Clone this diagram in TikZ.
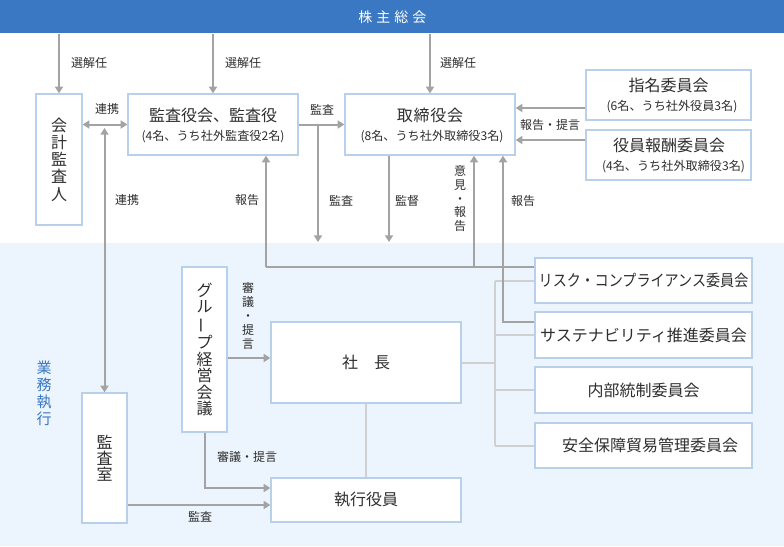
\documentclass[tikz,border=0pt]{standalone}
\usepackage{fontspec}
\setmainfont{Noto Sans CJK JP}
\usetikzlibrary{arrows.meta}
\definecolor{barblue}{HTML}{3A78C3}
\definecolor{bgblue}{HTML}{ECF4FD}
\definecolor{boxline}{HTML}{B9D0EA}
\definecolor{arrgray}{HTML}{A3A3A3}
\definecolor{lightln}{HTML}{D0D0D0}
\definecolor{txt}{HTML}{2E2E2E}
\definecolor{labblue}{HTML}{3A78C3}
\tikzset{
 box/.style={draw=boxline, line width=1pt, fill=white, inner sep=0pt, text=txt, align=center, font=\fontsize{12}{14}\selectfont},
 arr/.style={draw=arrgray, line width=1.5pt, -{Triangle[length=5pt,width=6pt]}},
 arrtwo/.style={draw=arrgray, line width=1.5pt, {Triangle[length=5pt,width=6pt]}-{Triangle[length=5pt,width=6pt]}},
 ln/.style={draw=arrgray, line width=1.5pt},
 lln/.style={draw=lightln, line width=1.5pt},
 lab/.style={text=txt, font=\fontsize{9}{10}\selectfont, inner sep=0pt},
 ttl/.style={text=txt, font=\fontsize{12}{14}\selectfont, inner sep=0pt},
 sub/.style={text=txt, font=\fontsize{9.1}{10}\selectfont, inner sep=0pt}
}
\newcommand\mybox[6]{\node[box, minimum width={(#4-#2)*0.75pt}, minimum height={(#5-#3)*0.75pt}] (#1) at ({(#2+#4)/2},{(#3+#5)/2}) {#6};}
\begin{document}
\begin{tikzpicture}[x=0.75pt,y=-0.75pt]
\useasboundingbox (0,0) rectangle (784,546);
\fill[white] (0,0) rectangle (784,546);
\fill[bgblue] (0,243) rectangle (784,546);
\node[fill=barblue, minimum width=588pt, minimum height=24.75pt, inner sep=0pt, anchor=north west, text=white, font=\fontsize{10.5}{12}\selectfont] (gms) at (0,0) {株\hspace{3pt}主\hspace{3pt}総\hspace{3pt}会};

% boxes
\mybox{kaikei}{36}{94}{82}{225}{}
\node[ttl, align=center, font=\fontsize{12}{12.9}\selectfont] (kaikeit) at (kaikei.center) {会\\計\\監\\査\\人};
\mybox{kansa}{128}{94}{298}{155}{}
\node[ttl] (kansat) at (213,115) {監査役会、監査役};
\node[sub] (kansas) at (213,137) {(4名、うち社外監査役2名)};
\mybox{tori}{345}{94}{515}{155}{}
\node[ttl] (torit) at (430,115) {取\hspace{0.6pt}締\hspace{0.6pt}役\hspace{0.6pt}会};
\node[sub] (toris) at (432,137) {(8名、うち社外取締役3名)};
\mybox{shimei}{586}{70}{751}{120}{}
\node[ttl] (shimeit) at (668.5,85) {指名委員会};
\node[sub] (shimeis) at (672,107) {(6名、うち社外役員3名)};
\mybox{hoshu}{586}{130}{751}{180}{}
\node[ttl] (hoshut) at (669,145) {役員報酬委員会};
\node[sub] (hoshus) at (673.5,167) {(4名、うち社外取締役3名)};
\mybox{group}{182}{267}{227}{432}{}
\node[ttl, align=center, font=\fontsize{12}{12.4}\selectfont] (groupt) at (group.center) {グ\\ル\\\rotatebox[origin=c]{90}{ー}\\プ\\経\\営\\会\\議};
\mybox{shacho}{271}{322}{461}{403}{社　長}
\mybox{shikko}{271}{478}{461}{522}{執行役員}
\mybox{kansashitsu}{82}{393}{127}{523}{}
\node[ttl, align=center, font=\fontsize{12}{12}\selectfont] (kansashitsut) at (kansashitsu.center) {監\\査\\室};
\mybox{risk}{535}{258}{752}{303}{\scalebox{0.88}[1]{リスク・コンプライアンス委員会}}
\mybox{sust}{535}{312}{752}{358}{サステナビリティ推進委員会}
\mybox{naibu}{535}{367}{752}{413}{内部統制委員会}
\mybox{anzen}{535}{423}{752}{468}{\hspace{10pt}安全保障貿易管理委員会}

% light connectors
\coordinate (b) at (495,362.5);
\draw[lln] (shacho.east) -- (b);
\draw[lln] (risk.west -| b) -- (anzen.west -| b);
\draw[lln] (risk.west -| b) -- (risk.west);
\draw[lln] (sust.west -| b) -- (sust.west);
\draw[lln] (naibu.west -| b) -- (naibu.west);
\draw[lln] (anzen.west -| b) -- (anzen.west);
\draw[lln] (shacho.south) -- (shikko.north);

% arrows
\draw[arr] (gms.south -| kaikei.north) -- (kaikei.north);
\draw[arr] (gms.south -| kansa.north) -- (kansa.north);
\draw[arr] (gms.south -| tori.north) -- (tori.north);
\draw[arrtwo] (kaikei.east |- kansa.west) -- (kansa.west);
\coordinate (renkei) at (104.5,128);
\draw[arrtwo] (renkei) -- (kansashitsu.north);
\draw[arr] (kansa.east) -- (tori.west);
\coordinate (k1) at (318,124.5);
\coordinate (k1e) at (318,242);
\draw[arr] (k1) -- (k1e);
\coordinate (kt) at (389,242);
\draw[arr] (tori.south -| kt) -- (kt);
\coordinate (hL) at (266,267);
\coordinate (hM) at (474,267);
\draw[ln] (hL) -- (risk.west |- hL);
\draw[arr] (hL) -- (kansa.south -| hL);
\draw[arr] (hM) -- (tori.south -| hM);
\coordinate (hR) at (503,322);
\draw[arr] (sust.west |- hR) -- (hR) -- (tori.south -| hR);
\coordinate (s1) at (550,108);
\coordinate (s2) at (550,140);
\draw[arr] (shimei.west |- s1) -- (tori.east |- s1);
\draw[arr] (hoshu.west |- s2) -- (tori.east |- s2);
\coordinate (g1) at (250,358);
\draw[arr] (group.east |- g1) -- (shacho.west |- g1);
\coordinate (g2) at (204.5,488);
\draw[arr] (group.south -| g2) -- (g2) -- (shikko.west |- g2);
\coordinate (m1) at (200,505);
\draw[arr] (kansashitsu.east |- m1) -- (shikko.west |- m1);

% labels
\node[lab] (l1) at (89,63) {選解任};
\node[lab] (l2) at (243,63) {選解任};
\node[lab] (l3) at (458,63) {選解任};
\node[lab] (l4) at (107,109) {連携};
\node[lab] (l5) at (127,200) {連携};
\node[lab] (l6) at (247,200) {報告};
\node[lab] (l7) at (322,110) {監査};
\node[lab] (l8) at (341,201) {監査};
\node[lab] (l9) at (407,201) {監督};
\node[lab, align=center, font=\fontsize{9}{10.3}\selectfont] (l10) at (460,198.5) {意\\見\\・\\報\\告};
\node[lab] (l11) at (523,201) {報告};
\node[lab] (l12) at (550,125) {報告・提言};
\node[lab, align=center, font=\fontsize{9}{10.5}\selectfont] (l13) at (248,316) {審\\議\\・\\提\\言};
\node[lab] (l14) at (247,457) {審議・提言};
\node[lab] (l15) at (200,517) {監査};
\node[text=labblue, inner sep=0pt, align=center, font=\fontsize{11.25}{12.75}\selectfont] (gyomu) at (44,393) {業\\務\\執\\行};
\end{tikzpicture}
\end{document}
